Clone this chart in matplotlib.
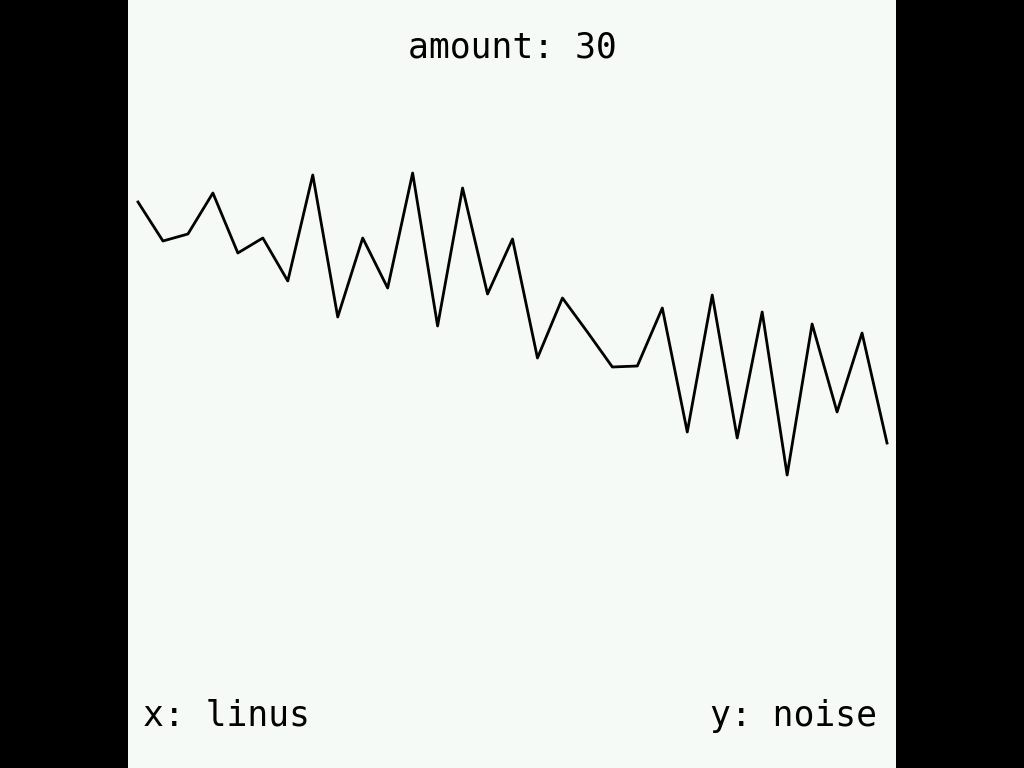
import numpy as np
import matplotlib
matplotlib.use("Agg")
import matplotlib.pyplot as plt

# noise samples (31 points, x = 0..30)
xs = list(range(31))
noise = [1.82, 1.43, 1.50, 1.91, 1.31, 1.46, 1.03, 2.09, 0.67, 1.46,
         0.96, 2.11, 0.58, 1.96, 0.90, 1.45, 0.26, 0.86, 0.52, 0.17,
         0.18, 0.76, -0.48, 0.89, -0.54, 0.72, -0.91, 0.60, -0.28, 0.51,
         -0.59]
title = "amount: 30"
xlab = "x: linus"
ylab = "y: noise"

fig = plt.figure(figsize=(10.24, 7.68), dpi=100, facecolor="black")
ax = fig.add_axes([128/1024, 0, 768/1024, 1])
ax.set_facecolor("#f5faf6")
ax.plot(xs, noise, color="black", lw=2.0)
ax.set_xlim(-0.4, 30.36)
ax.set_ylim(-3.84, 3.84)
ax.set_xticks([])
ax.set_yticks([])
for s in ax.spines.values():
    s.set_visible(False)

font = dict(family="DejaVu Sans Mono", size=25, color="black")
ax.text(0.5, 1 - 47/768, title, transform=ax.transAxes, ha="center", va="center", **font)
ax.text(15/768, 1 - 716/768, xlab, transform=ax.transAxes, ha="left", va="center", **font)
ax.text(1 - 19/768, 1 - 716/768, ylab, transform=ax.transAxes, ha="right", va="center", **font)

fig.savefig("out.png", dpi=100, facecolor="black")
